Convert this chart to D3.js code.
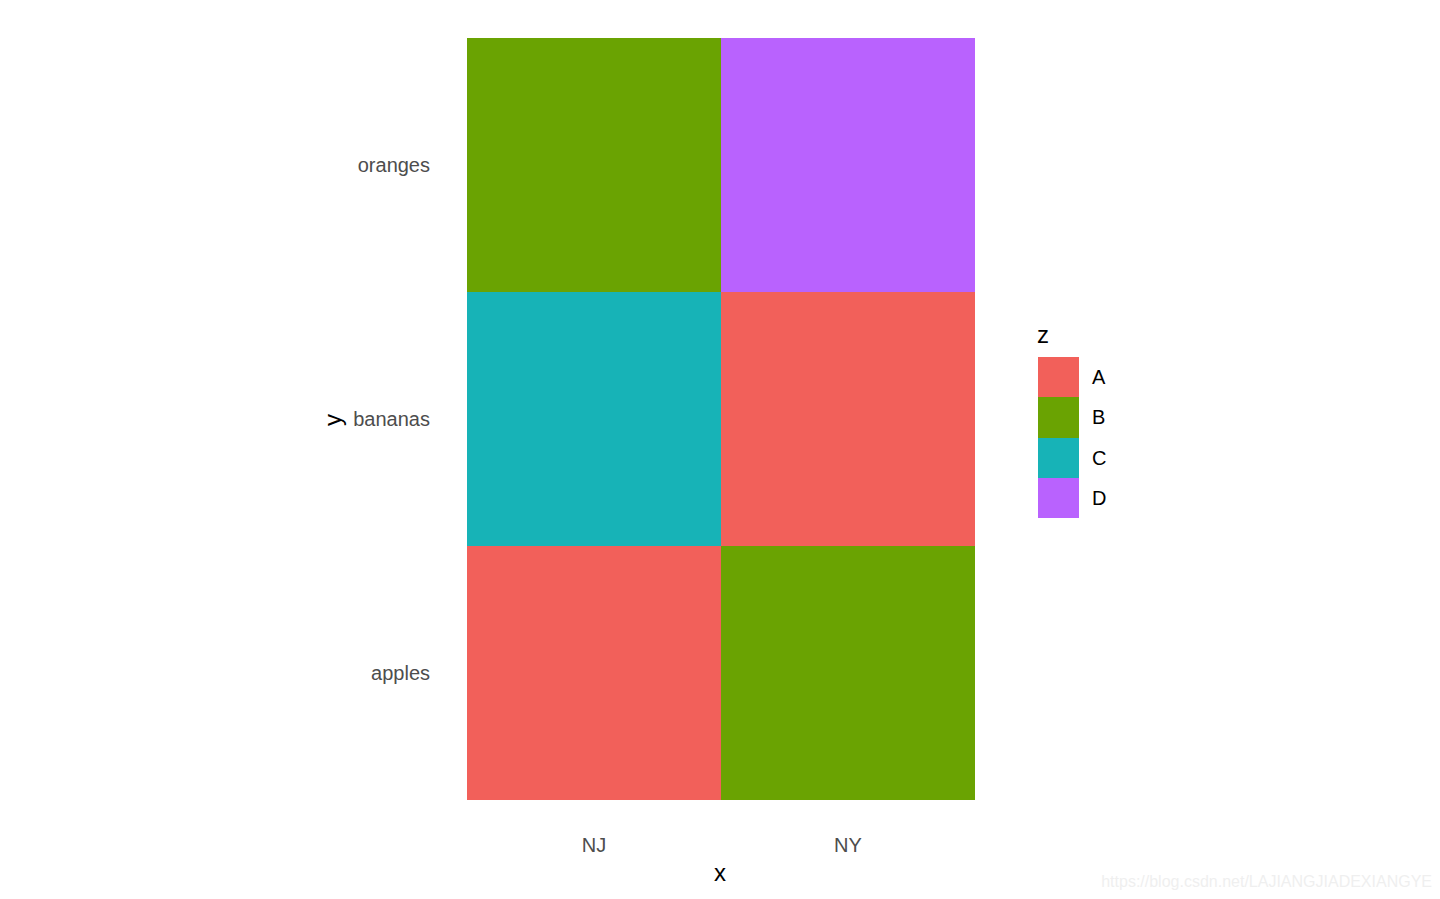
<!DOCTYPE html>
<html><head><meta charset="utf-8">
<script src="https://cdn.jsdelivr.net/npm/d3@7"></script>
<style>body{margin:0;background:#fff}svg{display:block}text{font-family:"Liberation Sans",Arial,sans-serif}</style>
</head><body><svg id="c" width="1440" height="899"></svg>
<script>
const xCats = ["NJ","NY"];
const yCats = ["apples","bananas","oranges"];
const zCats = ["A","B","C","D"];
const cellX = ["NJ","NJ","NJ","NY","NY","NY"];
const cellY = ["apples","bananas","oranges","apples","bananas","oranges"];
const cellZ = ["A","C","B","B","A","D"];

const svg = d3.select("#c");
const x = d3.scaleBand().domain(xCats).range([467,975]);
const y = d3.scaleBand().domain(yCats).range([800,38]);
const col = d3.scaleOrdinal().domain(zCats).range(["#F2605A","#6AA302","#17B3B7","#B962FE"]);

svg.append("g").selectAll("rect").data(cellX.map((d,i)=>({x:d,y:cellY[i],z:cellZ[i]})))
 .join("rect").attr("x",d=>x(d.x)).attr("y",d=>y(d.y))
 .attr("width",x.bandwidth()).attr("height",y.bandwidth())
 .attr("fill",d=>col(d.z)).attr("shape-rendering","crispEdges");

const xa = svg.append("g").attr("transform","translate(0,800)").call(d3.axisBottom(x).tickSize(0).tickPadding(0));
xa.select(".domain").remove();
xa.selectAll("text").attr("dy",null).attr("y",52).attr("font-size",20).attr("fill","#4D4D4D").attr("font-family","Liberation Sans, Arial, sans-serif");

const ya = svg.append("g").attr("transform","translate(430,0)").call(d3.axisLeft(y).tickSize(0).tickPadding(0));
ya.select(".domain").remove();
ya.selectAll("text").attr("x",0).attr("dy","0.35em").attr("font-size",20).attr("fill","#4D4D4D").attr("font-family","Liberation Sans, Arial, sans-serif");

svg.append("text").attr("x",720).attr("y",881).attr("text-anchor","middle").attr("font-size",24).text("x");
svg.append("text").attr("transform","translate(341,420) rotate(-90)").attr("text-anchor","middle").attr("font-size",24).text("y");

const lg = svg.append("g");
lg.append("text").attr("x",1037).attr("y",343).attr("font-size",24).text("z");
const ks = 40.25;
zCats.forEach((z,i)=>{
  lg.append("rect").attr("x",1038).attr("y",357+i*ks).attr("width",41).attr("height",ks).attr("fill",col(z)).attr("shape-rendering","crispEdges");
  lg.append("text").attr("x",1092).attr("y",357+i*ks+ks/2).attr("dy","0.35em").attr("font-size",20).text(z);
});

svg.append("text").attr("x",1432).attr("y",887).attr("text-anchor","end").attr("font-size",16).attr("fill","#EFEFEF").text("https://blog.csdn.net/LAJIANGJIADEXIANGYE");
</script></body></html>
